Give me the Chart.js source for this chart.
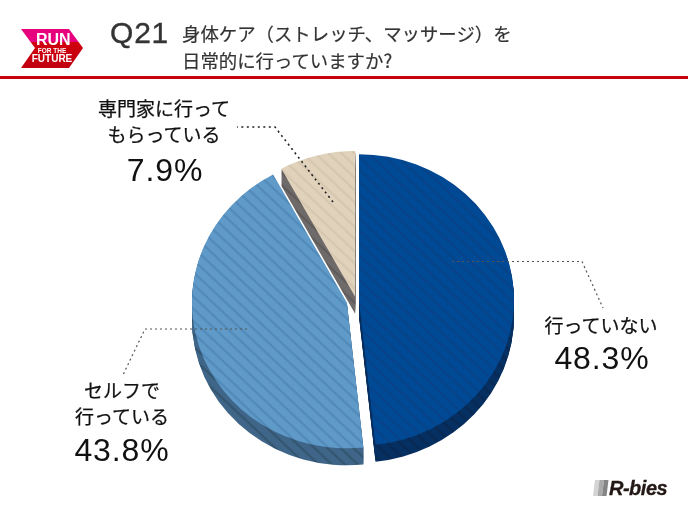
<!DOCTYPE html>
<html lang="ja">
<head>
<meta charset="utf-8">
<script src="https://cdn.jsdelivr.net/npm/chart.js@4"></script>
<style>
html, body { margin: 0; padding: 0; background: #fff; }
#page { position: relative; width: 688px; height: 516px; overflow: hidden; font-family: "Noto Sans CJK JP", sans-serif; }
#page canvas { position: absolute; left: 0; top: 0; }
.t { position: absolute; white-space: nowrap; color: #111; }
.lab { font-size: 19px; line-height: 26px; text-align: center; -webkit-text-stroke: .25px #111; }
.pct { font-family: "Liberation Sans", sans-serif; font-size: 32px; line-height: 32px; letter-spacing: .9px; text-align: center; color: #111; }
</style>
</head>
<body>
<div id="page">
    <canvas id="pie" width="688" height="516"></canvas>
    <div class="t" style="left:110px;top:16px;font:30px/34px 'Liberation Sans';letter-spacing:.8px;color:#333;-webkit-text-stroke:.35px #333">Q21</div>
    <div class="t" style="left:182px;top:20px;font-size:18.4px;line-height:27px;color:#333;-webkit-text-stroke:.2px #333">身体ケア（ストレッチ、マッサージ）を<br>日常的に行っていますか?</div>
    <div class="t" style="left:36px;top:33px;width:32px;text-align:center;font:bold 16px/14px 'Liberation Sans Narrow','Liberation Sans';color:#fff">RUN</div>
    <div class="t" style="left:36px;top:47px;width:32px;text-align:center;font:bold 6.5px/7px 'Liberation Sans';color:#fff">FOR THE</div>
    <div class="t" style="left:30px;top:54px;width:44px;text-align:center;font:bold 10px/10px 'Liberation Sans Narrow','Liberation Sans';color:#fff">FUTURE</div>
    <div class="t lab" style="left:59px;top:95px;width:210px" id="lab0"></div>
    <div class="t pct" style="left:60px;top:154px;width:210px" id="pct0"></div>
    <div class="t lab" style="left:516px;top:312px;width:170px" id="lab1"></div>
    <div class="t pct" style="left:517px;top:342px;width:170px" id="pct1"></div>
    <div class="t lab" style="left:47px;top:377px;width:150px" id="lab2"></div>
    <div class="t pct" style="left:47px;top:434px;width:150px" id="pct2"></div>
    <div class="t" style="left:609px;top:478px;font:italic bold 20px/20px 'Liberation Sans';color:#231815;letter-spacing:-.5px;-webkit-text-stroke:.3px #231815">R-bies</div>
</div>
<script>
const categories = ['行っていない', 'セルフで\n行っている', '専門家に行って\nもらっている'];
const shares = [48.3, 43.8, 7.9];
const labelIds = [1, 2, 0];

// face colour, stripe colour, side colour, side stripe colour
const sliceColors = [
    ['#004a95', '#0a4389', '#062f62', '#0a2a52'],
    ['#5f9ac9', '#5289b8', '#3f6688', '#34566f'],
    ['#e1d3bb', '#d5c7af', '#6f6a6a', '#605b5b']
];
const sliceGaps = [3, 9.5, 3.5];
const ySquash = 0.94;
const sideDepth = 17;

categories.forEach((c, i) => {
    const n = labelIds[i];
    document.getElementById('lab' + n).innerHTML = c.replace('\n', '<br>');
    document.getElementById('pct' + n).textContent = shares[i].toFixed(1) + '%';
});

function stripes(base, line) {
    const size = 13;
    const c = document.createElement('canvas');
    c.width = size;
    c.height = size;
    const g = c.getContext('2d');
    g.fillStyle = base;
    g.fillRect(0, 0, size, size);
    g.strokeStyle = line;
    g.lineWidth = 2;
    [-size, 0, size].forEach(o => {
        g.beginPath();
        g.moveTo(o - 1, -1);
        g.lineTo(o + size + 1, size + 1);
        g.stroke();
    });
    return document.getElementById('pie').getContext('2d').createPattern(c, 'repeat');
}

// draws the arcs chart.js laid out: squashed, pulled apart, with a rim under each
const pie3d = {
    id: 'pie3d',
    beforeDatasetDraw(chart, args) {
        const ctx = chart.ctx;
        const arcs = args.meta.data;
        const cx = arcs[0].x, cy = arcs[0].y;
        const shift = arcs.map((arc, i) => {
            const mid = (arc.startAngle + arc.endAngle) / 2;
            return [Math.cos(mid) * sliceGaps[i], Math.sin(mid) * sliceGaps[i]];
        });
        ctx.save();
        ctx.translate(cx, cy);
        ctx.scale(1, ySquash);
        ctx.translate(-cx, -cy);
        arcs.forEach((arc, i) => {
            const x = arc.x + shift[i][0];
            const y = arc.y + shift[i][1];
            ctx.fillStyle = stripes(sliceColors[i][2], sliceColors[i][3]);
            for (let d = sideDepth; d > 0; d--) {
                const yy = y + d / ySquash;
                ctx.beginPath();
                ctx.moveTo(x, yy);
                ctx.arc(x, yy, arc.outerRadius, arc.startAngle, arc.endAngle);
                ctx.closePath();
                ctx.fill();
            }
        });
        arcs.forEach((arc, i) => {
            ctx.save();
            ctx.translate(shift[i][0], shift[i][1]);
            arc.draw(ctx);
            ctx.restore();
        });
        ctx.restore();
        return false;
    }
};

const leaders = {
    id: 'leaders',
    afterDraw(chart) {
        const ctx = chart.ctx;
        ctx.save();
        ctx.strokeStyle = '#555';
        ctx.lineWidth = 1.2;
        ctx.setLineDash([2, 3]);
        [[[452, 261.5], [582, 261.5], [603, 308]], [[247, 329], [145, 329], [123, 375]]].forEach(pts => {
            ctx.beginPath();
            pts.forEach((p, i) => i ? ctx.lineTo(p[0], p[1]) : ctx.moveTo(p[0], p[1]));
            ctx.stroke();
        });
        ctx.strokeStyle = '#222';
        ctx.lineWidth = 1.6;
        ctx.setLineDash([2, 3.5]);
        ctx.beginPath();
        ctx.moveTo(333, 202);
        ctx.lineTo(275, 127);
        ctx.lineTo(237, 127);
        ctx.stroke();
        ctx.restore();
    }
};

const furniture = {
    id: 'furniture',
    beforeDraw(chart) {
        const ctx = chart.ctx;
        ctx.save();
        ctx.fillStyle = '#c8000b';
        ctx.fillRect(0, 76, 688, 3);
        // run for the future ribbon
        const grad = ctx.createLinearGradient(0, 29, 0, 68);
        grad.addColorStop(0, '#e6007e');
        grad.addColorStop(0.33, '#e6007e');
        grad.addColorStop(0.33, '#d0000f');
        grad.addColorStop(1, '#c00010');
        ctx.fillStyle = grad;
        ctx.beginPath();
        ctx.moveTo(21, 29);
        ctx.lineTo(69, 29);
        ctx.lineTo(83, 48);
        ctx.lineTo(69, 68);
        ctx.lineTo(21, 68);
        ctx.lineTo(35, 48);
        ctx.closePath();
        ctx.fill();
        // r-bies bars
        ['#d4d4d4', '#aaaaaa', '#858585'].forEach((col, i) => {
            ctx.fillStyle = col;
            const x = 593 + i * 4.5;
            ctx.beginPath();
            ctx.moveTo(x + 2, 480);
            ctx.lineTo(x + 6.5, 480);
            ctx.lineTo(x + 4.5, 496);
            ctx.lineTo(x, 496);
            ctx.closePath();
            ctx.fill();
        });
        ctx.restore();
    }
};

new Chart(document.getElementById('pie'), {
    type: 'pie',
    data: {
        labels: categories,
        datasets: [{
            data: shares,
            backgroundColor: sliceColors.map(c => stripes(c[0], c[1])),
            borderWidth: 0
        }]
    },
    options: {
        responsive: false,
        animation: false,
        layout: { padding: { left: 201, right: 177, top: 145, bottom: 61 } },
        plugins: { legend: { display: false }, tooltip: { enabled: false } }
    },
    plugins: [furniture, pie3d, leaders]
});
</script>
</body>
</html>
